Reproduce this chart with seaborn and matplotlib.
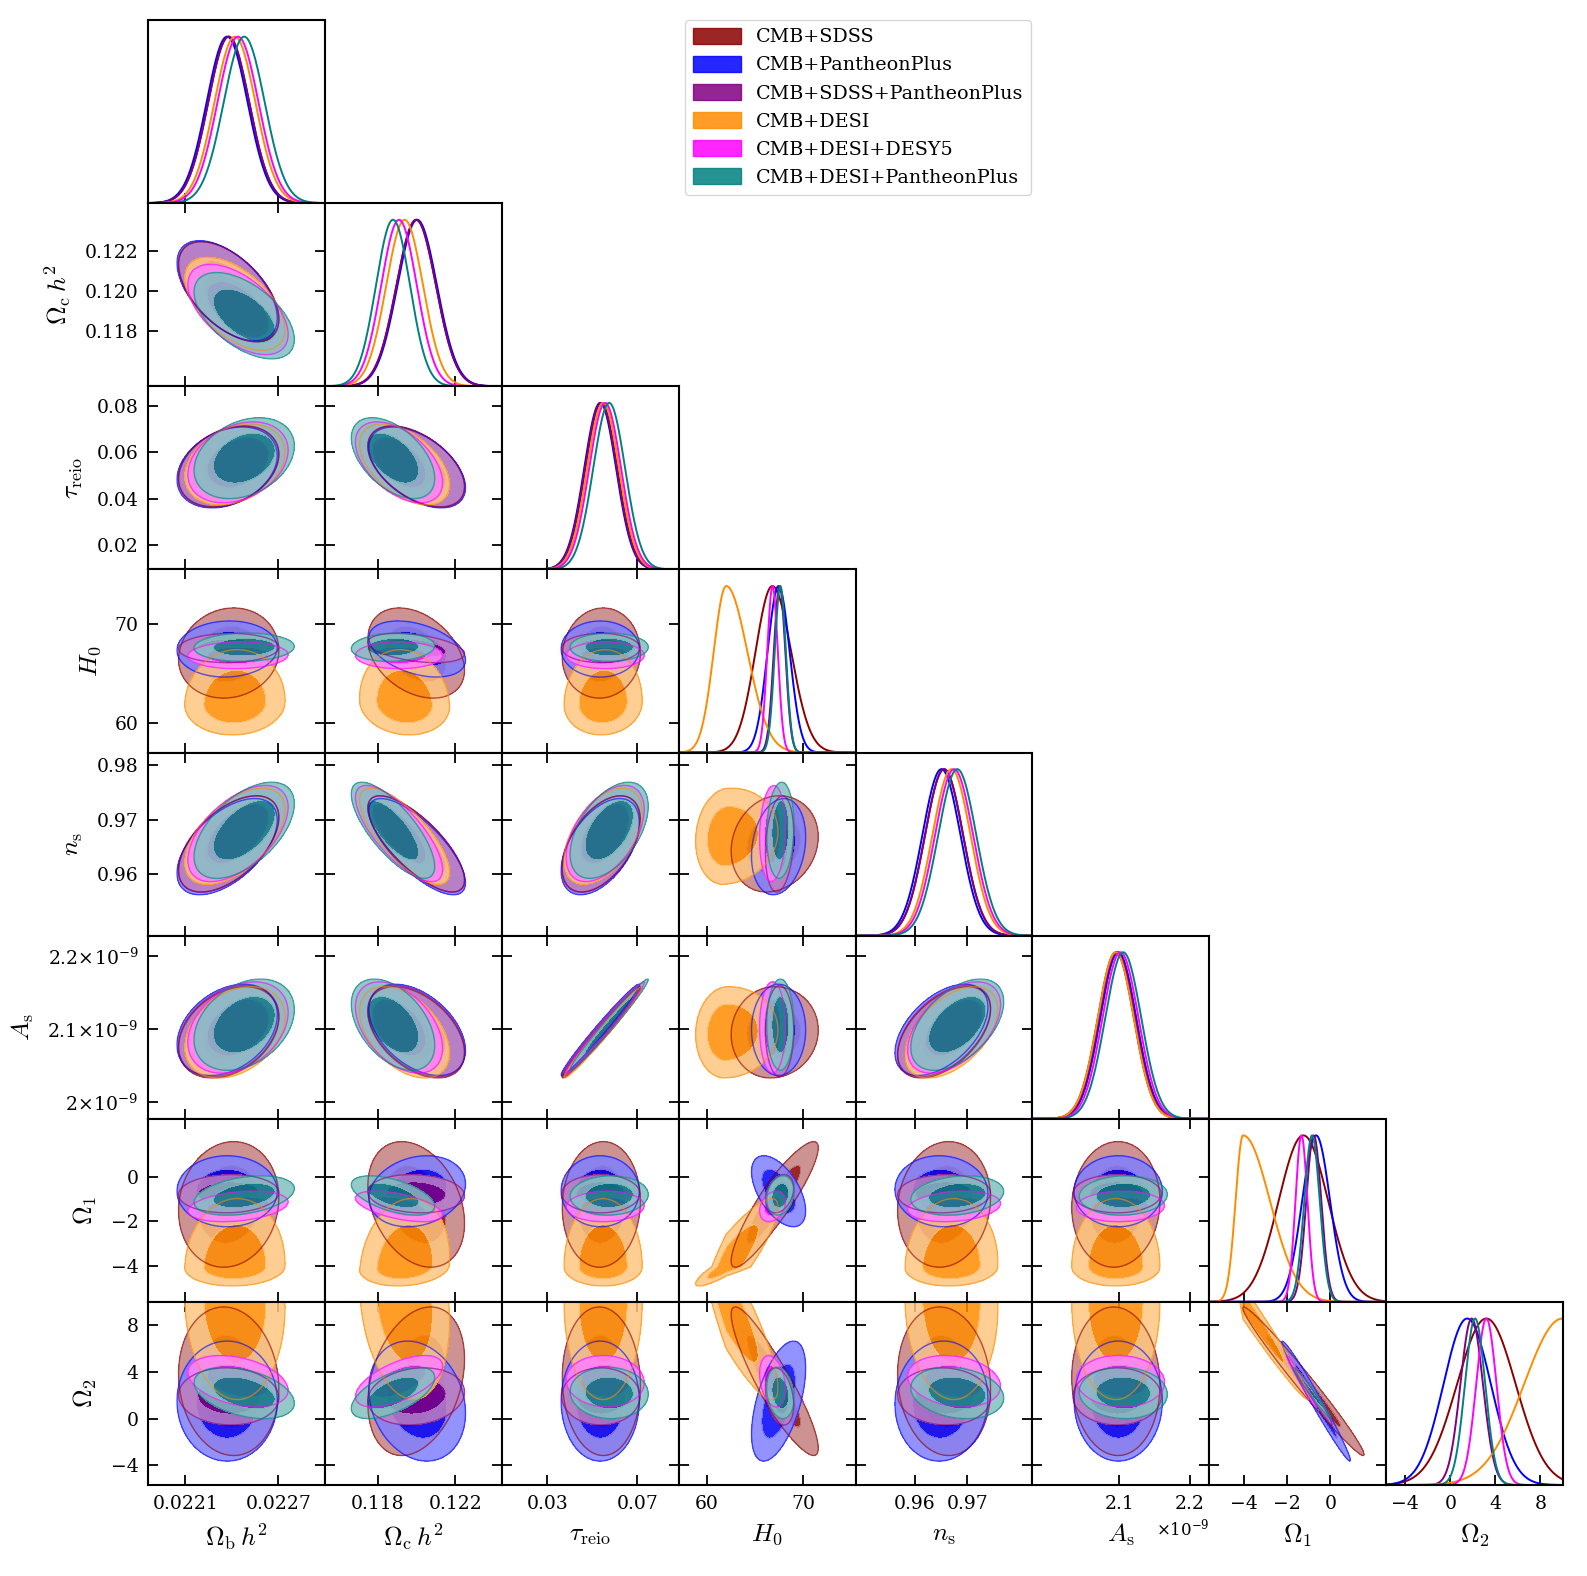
import numpy as np
import pandas as pd
import matplotlib
matplotlib.use('Agg')
import matplotlib.pyplot as plt
import seaborn as sns
from matplotlib.colors import to_rgb
from matplotlib.patches import Patch

sns.set_style('ticks', rc={'axes.edgecolor': 'black', 'xtick.color': 'black', 'ytick.color': 'black',
                           'text.color': 'black', 'axes.labelcolor': 'black'})
plt.rcParams['font.family'] = ['DejaVu Serif']
plt.rcParams['mathtext.fontset'] = 'cm'

# ---- datasets ----
names = ['CMB+SDSS', 'CMB+PantheonPlus', 'CMB+SDSS+PantheonPlus',
         'CMB+DESI', 'CMB+DESI+DESY5', 'CMB+DESI+PantheonPlus']
colors = ['#8b0000', '#0000ff', '#800080', '#ff8c00', '#ff00ff', '#008080']

# ---- parameters ----
labels = [r'$\Omega_\mathrm{b}\,h^2$', r'$\Omega_\mathrm{c}\,h^2$', r'$\tau_\mathrm{reio}$', r'$H_0$',
          r'$n_\mathrm{s}$', r'$A_\mathrm{s}$', r'$\Omega_1$', r'$\Omega_2$']
lims = [(0.02186, 0.02300), (0.11526, 0.1244), (0.0097, 0.0884), (57.05, 75.45),
        (0.9488, 0.98235), (1.977, 2.2275), (-5.62, 2.59), (-5.69, 10.0)]
xticks = [[0.0221, 0.0227], [0.118, 0.122], [0.03, 0.07], [60, 70],
          [0.96, 0.97], [2.1, 2.2], [-4, -2, 0], [-4, 0, 4, 8]]
xticklabels = [['0.0221', '0.0227'], ['0.118', '0.122'], ['0.03', '0.07'], ['60', '70'],
               ['0.96', '0.97'], ['2.1', '2.2'], ['\u22124', '\u22122', '0'], ['\u22124', '0', '4', '8']]
yticks = [[], [0.118, 0.120, 0.122], [0.02, 0.04, 0.06, 0.08], [60, 70],
          [0.96, 0.97, 0.98], [2.0, 2.1, 2.2], [-4, -2, 0], [-4, 0, 4, 8]]
yticklabels = [[], ['0.118', '0.120', '0.122'], ['0.02', '0.04', '0.06', '0.08'], ['60', '70'],
               ['0.96', '0.97', '0.98'],
               [r'$\mathdefault{2\!\times\!10^{-9}}$', r'$\mathdefault{2.1\!\times\!10^{-9}}$',
                r'$\mathdefault{2.2\!\times\!10^{-9}}$'],
               ['\u22124', '\u22122', '0'], ['\u22124', '0', '4', '8']]

# ---- posterior summaries (order: ob, oc, tau, H0, ns, As[1e-9], Om1, Om2) ----
sdss_mean = [0.02238, 0.11998, 0.0540, 66.8, 0.9656, 2.0952, -1.25, 3.2]
sdss_lo = [0.000132, 0.00102, 0.0071, 1.75, 0.0036, 0.0255, 1.15, 2.6]
sdss_hi = [0.000132, 0.00102, 0.0071, 1.95, 0.0036, 0.0255, 1.15, 2.6]

pan_mean = [0.02237, 0.12003, 0.0535, 67.45, 0.9651, 2.0986, -0.66, 1.5]
pan_lo = [0.000132, 0.00102, 0.0071, 1.15, 0.0036, 0.0255, 0.65, 2.1]
pan_hi = [0.000132, 0.00102, 0.0071, 1.15, 0.0036, 0.0255, 0.65, 2.1]

sp_mean = [0.02238, 0.11998, 0.0538, 67.55, 0.9656, 2.097, -0.77, 1.9]
sp_lo = [0.000132, 0.00102, 0.0071, 0.6, 0.0036, 0.0255, 0.35, 1.0]
sp_hi = [0.000132, 0.00102, 0.0071, 0.6, 0.0036, 0.0255, 0.35, 1.0]

desi_mean = [0.02242, 0.11938, 0.0548, 62.0, 0.9670, 2.0952, -4.05, 9.95]
desi_lo = [0.000132, 0.00095, 0.0071, 1.3, 0.0036, 0.0255, 0.35, 3.4]
desi_hi = [0.000132, 0.00095, 0.0071, 2.2, 0.0036, 0.0255, 1.25, 0.3]

y5_mean = [0.02244, 0.11909, 0.0557, 66.82, 0.9675, 2.1018, -1.34, 3.2]
y5_lo = [0.000132, 0.00092, 0.0071, 0.55, 0.0036, 0.0255, 0.28, 0.9]
y5_hi = [0.000132, 0.00092, 0.0071, 0.55, 0.0036, 0.0255, 0.28, 0.9]

dp_mean = [0.02248, 0.11878, 0.0575, 67.63, 0.9681, 2.1057, -0.85, 2.2]
dp_lo = [0.000132, 0.00088, 0.0071, 0.58, 0.0036, 0.0255, 0.36, 0.9]
dp_hi = [0.000132, 0.00088, 0.0071, 0.58, 0.0036, 0.0255, 0.36, 0.9]

# correlations among CMB params (ob, oc, tau, ns, As), shared
rho_cmb = [[1.0, -0.55, 0.3, 0.55, 0.33],
           [-0.55, 1.0, -0.5, -0.75, -0.45],
           [0.3, -0.5, 1.0, 0.5, 0.985],
           [0.55, -0.75, 0.5, 1.0, 0.5],
           [0.33, -0.45, 0.985, 0.5, 1.0]]

# per dataset: H0 / Om1 / Om2 against (ob, oc, tau, ns, As), then [H0-Om1, H0-Om2, Om1-Om2]
sdss_rho_h0 = [0.1, -0.35, 0.05, 0.15, 0.05]
sdss_rho_om1 = [0.1, -0.3, 0.05, 0.1, 0.05]
sdss_rho_om2 = [-0.1, 0.3, -0.05, -0.1, -0.05]
sdss_rho_late = [0.9, -0.9, -0.985]

pan_rho_h0 = [0.05, -0.4, 0.0, 0.2, 0.0]
pan_rho_om1 = [0.0, 0.2, 0.0, -0.05, 0.0]
pan_rho_om2 = [0.0, -0.2, 0.0, 0.05, 0.0]
pan_rho_late = [-0.55, 0.55, -0.985]

sp_rho_h0 = [0.05, -0.4, 0.0, 0.2, 0.0]
sp_rho_om1 = [0.05, -0.1, 0.0, 0.05, 0.0]
sp_rho_om2 = [-0.05, 0.15, 0.0, -0.05, 0.0]
sp_rho_late = [0.3, -0.3, -0.985]

desi_rho_h0 = [0.05, -0.1, 0.05, 0.1, 0.05]
desi_rho_om1 = [0.05, 0.15, 0.0, 0.05, 0.0]
desi_rho_om2 = [-0.05, -0.2, 0.0, -0.05, 0.0]
desi_rho_late = [0.88, -0.88, -0.985]

y5_rho_h0 = [0.05, 0.0, 0.0, 0.1, 0.0]
y5_rho_om1 = [0.3, -0.55, 0.05, 0.2, 0.05]
y5_rho_om2 = [-0.35, 0.6, -0.05, -0.2, -0.05]
y5_rho_late = [0.3, -0.3, -0.985]

dp_rho_h0 = [0.05, 0.1, 0.0, 0.1, 0.0]
dp_rho_om1 = [0.35, -0.55, 0.05, 0.2, 0.05]
dp_rho_om2 = [-0.4, 0.6, -0.05, -0.2, -0.05]
dp_rho_late = [0.2, -0.2, -0.985]

means = [sdss_mean, pan_mean, sp_mean, desi_mean, y5_mean, dp_mean]
sig_lo = [sdss_lo, pan_lo, sp_lo, desi_lo, y5_lo, dp_lo]
sig_hi = [sdss_hi, pan_hi, sp_hi, desi_hi, y5_hi, dp_hi]
rho_sets = [(sdss_rho_h0, sdss_rho_om1, sdss_rho_om2, sdss_rho_late),
            (pan_rho_h0, pan_rho_om1, pan_rho_om2, pan_rho_late),
            (sp_rho_h0, sp_rho_om1, sp_rho_om2, sp_rho_late),
            (desi_rho_h0, desi_rho_om1, desi_rho_om2, desi_rho_late),
            (y5_rho_h0, y5_rho_om1, y5_rho_om2, y5_rho_late),
            (dp_rho_h0, dp_rho_om1, dp_rho_om2, dp_rho_late)]

cmb_idx = [0, 1, 2, 4, 5]


def build_corr(rh0, rom1, rom2, late):
    c = np.eye(8)
    for a, pa in enumerate(cmb_idx):
        for b, pb in enumerate(cmb_idx):
            c[pa, pb] = rho_cmb[a][b]
        c[3, pa] = c[pa, 3] = rh0[a]
        c[6, pa] = c[pa, 6] = rom1[a]
        c[7, pa] = c[pa, 7] = rom2[a]
    c[3, 6] = c[6, 3] = late[0]
    c[3, 7] = c[7, 3] = late[1]
    c[6, 7] = c[7, 6] = late[2]
    return c


corrs = [build_corr(*r) for r in rho_sets]


def std_coord(x, mu, lo, hi):
    return np.where(x < mu, (x - mu) / lo, (x - mu) / hi)


n = len(labels)
fig, axes = plt.subplots(n, n, figsize=(15.87, 15.76), dpi=100)
fig.subplots_adjust(left=148 / 1587, right=1563 / 1587, top=1 - 20 / 1576, bottom=1 - 1485 / 1576,
                    wspace=0, hspace=0)

lev = [-1, 2.279, 5.991]
tick_kw = dict(direction='in', length=7, width=1.3, labelsize=13.5, pad=7)

for i in range(n):
    for j in range(n):
        ax = axes[i, j]
        if j > i:
            ax.remove()
            continue
        if i == j:
            xs = np.linspace(lims[i][0], lims[i][1], 600)
            frames = []
            for d in range(len(names)):
                u = std_coord(xs, means[d][i], sig_lo[d][i], sig_hi[d][i])
                frames.append(pd.DataFrame({'x': xs, 'p': np.exp(-0.5 * u ** 2), 'data': names[d]}))
            df = pd.concat(frames, ignore_index=True)
            sns.lineplot(data=df, x='x', y='p', hue='data', hue_order=names, palette=colors,
                         legend=False, ax=ax, estimator=None, linewidth=1.4)
            ax.set_ylim(0, 1.1)
            ax.set_yticks([])
            ax.set_ylabel('')
            ax.tick_params(axis='x', top=False, bottom=True, **tick_kw)
        else:
            gx = np.linspace(lims[j][0], lims[j][1], 360)
            gy = np.linspace(lims[i][0], lims[i][1], 360)
            X, Y = np.meshgrid(gx, gy)
            Qs = []
            for d in range(len(names)):
                u = std_coord(X, means[d][j], sig_lo[d][j], sig_hi[d][j])
                v = std_coord(Y, means[d][i], sig_lo[d][i], sig_hi[d][i])
                r = corrs[d][i, j]
                Q = (u * u - 2 * r * u * v + v * v) / (1 - r * r)
                Qs.append(Q)
                rgb = np.array(to_rgb(colors[d]))
                pale = tuple(0.5 * rgb + 0.5)
                ax.contourf(X, Y, Q, levels=lev, colors=[tuple(rgb) + (0.85,), pale + (0.85,)])
            for d in range(len(names)):
                rgb = to_rgb(colors[d])
                ax.contour(X, Y, Qs[d], levels=[lev[2]], colors=[rgb + (0.6,)], linewidths=1.0)
            ax.set_ylim(lims[i])
            ax.set_yticks(yticks[i])
            ax.set_yticklabels(yticklabels[i] if j == 0 else [])
            ax.tick_params(top=True, right=True, left=True, bottom=True, **tick_kw)
        ax.set_xlim(lims[j])
        ax.set_xticks(xticks[j])
        ax.set_xticklabels(xticklabels[j] if i == n - 1 else [])
        ax.set_xlabel('')
        for sp in ax.spines.values():
            sp.set_linewidth(1.5)
        if i == n - 1:
            ax.set_xlabel(labels[j], fontsize=18.5)
            ax.xaxis.set_label_coords(0.5, -0.2)
        if j == 0 and i > 0:
            ax.set_ylabel(labels[i], fontsize=18.5, labelpad=8)

axes[n - 1, 5].text(1.0, -0.235, r'$\mathdefault{\times10^{-9}}$', transform=axes[n - 1, 5].transAxes,
                    ha='right', va='center', fontsize=12)

handles = [Patch(facecolor=c, edgecolor=c, alpha=0.85, label=nm) for c, nm in zip(colors, names)]
fig.legend(handles=handles, loc='upper left', bbox_to_anchor=(685 / 1587, 1 - 20 / 1576),
           fontsize=13.8, frameon=True, handlelength=2.5, handleheight=0.9, borderaxespad=0)

fig.savefig('out.png', dpi=100)
